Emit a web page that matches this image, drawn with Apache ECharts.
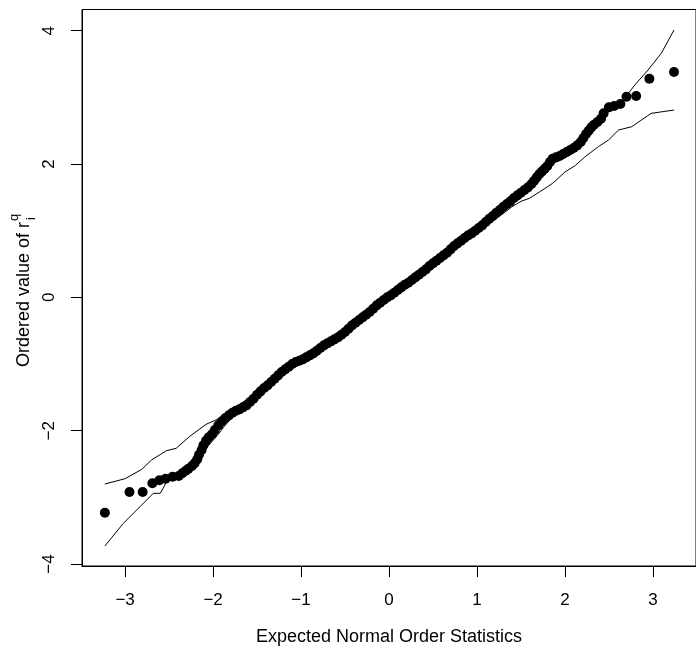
<!DOCTYPE html>
<html>
<head>
<meta charset="utf-8">
<script src="https://cdn.jsdelivr.net/npm/echarts@6/dist/echarts.min.js"></script>
<style>
html,body{margin:0;padding:0;background:#fff;}
#chart{width:696px;height:655px;}
</style>
</head>
<body>
<div id="chart"></div>
<script>
// Ordered residuals vs expected normal order statistics
const ptsX = [-3.23,-2.95,-2.80,-2.69,-2.61,-2.54,-2.46,-2.39,-2.35,-2.31,-2.28,-2.24,-2.21,-2.18,-2.16,-2.13,-2.11,-2.08,-2.05,-2.01,-1.98,-1.94,-1.90,-1.86,-1.82,-1.78,-1.74,-1.70,-1.66,-1.62,-1.58,-1.54,-1.50,-1.46,-1.42,-1.38,-1.34,-1.30,-1.26,-1.22,-1.18,-1.14,-1.10,-1.06,-1.02,-0.98,-0.94,-0.90,-0.86,-0.82,-0.78,-0.74,-0.70,-0.66,-0.62,-0.58,-0.54,-0.50,-0.46,-0.42,-0.38,-0.34,-0.30,-0.26,-0.22,-0.18,-0.14,-0.10,-0.06,-0.02,0.02,0.06,0.10,0.14,0.18,0.22,0.26,0.30,0.34,0.38,0.42,0.46,0.50,0.54,0.58,0.62,0.66,0.70,0.74,0.78,0.82,0.86,0.90,0.94,0.98,1.02,1.06,1.10,1.14,1.18,1.22,1.26,1.30,1.34,1.38,1.42,1.46,1.50,1.54,1.58,1.62,1.65,1.68,1.71,1.74,1.77,1.80,1.83,1.86,1.90,1.94,1.98,2.02,2.06,2.10,2.14,2.18,2.21,2.24,2.27,2.30,2.33,2.37,2.41,2.44,2.50,2.56,2.63,2.70,2.81,2.96,3.24];
const ptsY = [-3.23,-2.92,-2.92,-2.79,-2.745,-2.72,-2.69,-2.68,-2.64,-2.60,-2.57,-2.53,-2.49,-2.43,-2.36,-2.29,-2.22,-2.15,-2.10,-2.05,-1.99,-1.92,-1.86,-1.81,-1.77,-1.73,-1.70,-1.68,-1.65,-1.62,-1.57,-1.52,-1.46,-1.41,-1.36,-1.32,-1.27,-1.22,-1.17,-1.12,-1.08,-1.04,-1.00,-0.97,-0.95,-0.93,-0.90,-0.87,-0.84,-0.80,-0.76,-0.72,-0.69,-0.66,-0.63,-0.60,-0.56,-0.52,-0.47,-0.42,-0.38,-0.34,-0.30,-0.26,-0.22,-0.17,-0.12,-0.08,-0.04,0.00,0.03,0.07,0.11,0.15,0.19,0.22,0.26,0.30,0.34,0.38,0.42,0.47,0.51,0.55,0.59,0.63,0.67,0.72,0.77,0.81,0.85,0.89,0.93,0.96,1.00,1.04,1.08,1.13,1.18,1.22,1.27,1.31,1.36,1.40,1.44,1.49,1.53,1.57,1.61,1.65,1.70,1.75,1.80,1.85,1.89,1.93,1.97,2.03,2.08,2.10,2.12,2.15,2.18,2.21,2.24,2.28,2.33,2.39,2.45,2.50,2.55,2.59,2.63,2.68,2.76,2.85,2.87,2.90,3.01,3.02,3.28,3.38];

// simulation envelope
const upperX = [-3.23,-3.00,-2.81,-2.70,-2.53,-2.42,-2.27,-2.08,-1.95,-1.82,-1.60,-1.40,-1.20,-1.00,-0.80,-0.60,-0.40,-0.20,0.00,0.20,0.40,0.60,0.80,1.00,1.20,1.40,1.60,1.80,2.00,2.20,2.40,2.50,2.645,2.72,2.81,2.945,3.095,3.24];
const upperY = [-2.80,-2.72,-2.58,-2.44,-2.30,-2.265,-2.09,-1.905,-1.83,-1.72,-1.52,-1.32,-1.08,-0.93,-0.76,-0.58,-0.38,-0.18,0.03,0.22,0.42,0.63,0.84,1.03,1.26,1.48,1.70,1.98,2.17,2.38,2.68,2.80,2.93,3.06,3.21,3.41,3.66,4.01];
const lowerX = [-3.23,-3.02,-2.83,-2.68,-2.60,-2.53,-2.40,-2.27,-2.15,-2.05,-1.95,-1.87,-1.78,-1.60,-1.40,-1.20,-1.00,-0.80,-0.60,-0.40,-0.20,0.00,0.20,0.40,0.60,0.80,1.00,1.20,1.40,1.50,1.595,1.71,1.86,2.00,2.12,2.23,2.38,2.495,2.61,2.76,2.87,2.98,3.24];
const lowerY = [-3.73,-3.39,-3.14,-2.94,-2.94,-2.77,-2.62,-2.55,-2.38,-2.22,-2.07,-1.93,-1.80,-1.60,-1.38,-1.15,-0.98,-0.80,-0.62,-0.42,-0.22,-0.02,0.18,0.38,0.57,0.78,0.97,1.16,1.36,1.44,1.485,1.58,1.71,1.88,1.98,2.11,2.26,2.36,2.51,2.56,2.66,2.76,2.81];

const xTicks = [-3,-2,-1,0,1,2,3];
const yTicks = [-4,-2,0,2,4];

const FONT = '"Liberation Sans", Arial, Helvetica, sans-serif';
const fmt = v => (v < 0 ? '\u2212' + Math.abs(v) : String(v));

const chart = echarts.init(document.getElementById('chart'), null, {renderer: 'canvas'});

chart.setOption({
  animation: false,
  backgroundColor: '#fff',
  grid: {left: 82, top: 9.5, width: 621, height: 556.5, show: true, borderColor: '#000', borderWidth: 1, backgroundColor: 'transparent'},
  xAxis: {
    type: 'value', min: -3.49, max: 3.49,
    axisLine: {show: true, onZero: false, lineStyle: {color: '#000', width: 1}},
    axisTick: {show: true, length: 11, customValues: xTicks, lineStyle: {color: '#000', width: 1}},
    axisLabel: {show: true, customValues: xTicks, formatter: fmt, fontSize: 17, color: '#000', fontFamily: FONT, margin: 26},
    splitLine: {show: false},
    name: 'Expected Normal Order Statistics', nameLocation: 'middle', nameGap: 62,
    nameTextStyle: {fontSize: 18, color: '#000', fontFamily: FONT}
  },
  yAxis: {
    type: 'value', min: -4.03, max: 4.318,
    axisLine: {show: true, onZero: false, lineStyle: {color: '#000', width: 1}},
    axisTick: {show: true, length: 11, customValues: yTicks, lineStyle: {color: '#000', width: 1}},
    axisLabel: {show: true, customValues: yTicks, formatter: fmt, rotate: 90, fontSize: 17, color: '#000', fontFamily: FONT, margin: 24},
    splitLine: {show: false}
  },
  graphic: [
    {type: 'text', x: 24, y: 367, rotation: Math.PI / 2,
     style: {text: 'Ordered value of', fontSize: 18, fontFamily: FONT, fill: '#000', align: 'left', verticalAlign: 'middle'}},
    {type: 'text', x: 24, y: 225, rotation: Math.PI / 2,
     style: {text: 'r', fontSize: 18, fontFamily: FONT, fill: '#000', align: 'center', verticalAlign: 'middle'}},
    {type: 'text', x: 14, y: 217.5, rotation: Math.PI / 2,
     style: {text: 'q', fontSize: 13, fontFamily: FONT, fill: '#000', align: 'center', verticalAlign: 'middle'}},
    {type: 'text', x: 31, y: 218.5, rotation: Math.PI / 2,
     style: {text: 'i', fontSize: 13, fontFamily: FONT, fill: '#000', align: 'center', verticalAlign: 'middle'}}
  ],
  series: [
    {type: 'scatter', symbol: 'circle', symbolSize: 10, itemStyle: {color: '#000', opacity: 1},
     data: ptsX.map((x, i) => [x, ptsY[i]]), z: 2},
    {type: 'line', showSymbol: false, lineStyle: {color: '#000', width: 1}, data: upperX.map((x, i) => [x, upperY[i]]), z: 3},
    {type: 'line', showSymbol: false, lineStyle: {color: '#000', width: 1}, data: lowerX.map((x, i) => [x, lowerY[i]]), z: 3}
  ]
});
</script>
</body>
</html>
